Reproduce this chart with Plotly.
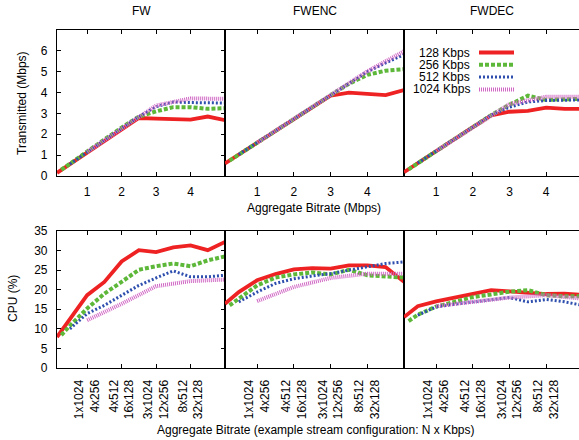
import plotly.graph_objects as go

W, H = 579, 440
OFF = 0  # body margin removed via post_script

# ---------------- data ----------------
panel_titles = ["FW", "FWENC", "FWDEC"]
series_names = ["128 Kbps", "256 Kbps", "512 Kbps", "1024 Kbps"]

# aggregate bitrate (Mbps) sample points per stream bitrate
x_128 = [0.125, 0.5, 1, 1.5, 2, 2.5, 3, 3.5, 4, 4.5, 5]
x_256 = [0.25, 0.5, 1, 1.5, 2, 2.5, 3, 3.5, 4, 4.5, 5]
x_512 = [0.5, 1, 1.5, 2, 2.5, 3, 3.5, 4, 4.5, 5]
x_1024 = [1, 2, 3, 4, 5]

# Transmitted (Mbps)
fw_tx_128 = [0.15, 0.57, 1.15, 1.70, 2.25, 2.78, 2.75, 2.72, 2.70, 2.85, 2.68]
fw_tx_256 = [0.30, 0.60, 1.17, 1.75, 2.32, 2.85, 3.10, 3.30, 3.30, 3.22, 3.25]
fw_tx_512 = [0.57, 1.15, 1.72, 2.28, 2.85, 3.32, 3.55, 3.52, 3.50, 3.50]
fw_tx_1024 = [1.15, 2.28, 3.38, 3.72, 3.70]

fwenc_tx_128 = [0.60, 1.03, 1.60, 2.17, 2.72, 3.30, 3.85, 4.00, 3.92, 3.88, 4.12]
fwenc_tx_256 = [0.74, 1.03, 1.60, 2.17, 2.72, 3.30, 3.87, 4.42, 4.85, 5.05, 5.12]
fwenc_tx_512 = [1.03, 1.60, 2.17, 2.72, 3.30, 3.87, 4.45, 5.00, 5.42, 5.82]
fwenc_tx_1024 = [1.60, 2.72, 3.88, 5.02, 5.98]

fwdec_tx_128 = [0.18, 0.62, 1.19, 1.77, 2.34, 2.90, 3.08, 3.12, 3.28, 3.22, 3.22]
fwdec_tx_256 = [0.32, 0.62, 1.19, 1.77, 2.34, 2.92, 3.42, 3.85, 3.65, 3.70, 3.70]
fwdec_tx_512 = [0.62, 1.19, 1.77, 2.34, 2.92, 3.30, 3.55, 3.62, 3.65, 3.65]
fwdec_tx_1024 = [1.19, 2.34, 3.45, 3.80, 3.80]

# CPU (%)
fw_cpu_128 = [7.9, 12.5, 18.6, 22.0, 27.2, 30.1, 29.6, 30.8, 31.3, 30.1, 32.2]
fw_cpu_256 = [8.4, 10.8, 15.2, 19.0, 22.0, 25.1, 26.0, 26.7, 26.0, 27.5, 28.5]
fw_cpu_512 = [10.0, 13.9, 16.0, 18.6, 21.1, 23.0, 24.8, 23.3, 23.3, 23.7]
fw_cpu_1024 = [12.2, 16.4, 20.9, 22.2, 22.6]

fwenc_cpu_128 = [16.4, 19.4, 22.4, 24.0, 25.2, 25.5, 25.4, 26.2, 26.2, 25.8, 22.0]
fwenc_cpu_256 = [16.0, 17.8, 21.1, 23.1, 23.9, 24.4, 23.9, 25.1, 23.7, 23.4, 23.1]
fwenc_cpu_512 = [16.9, 19.4, 21.6, 22.8, 23.5, 24.1, 25.0, 25.8, 26.7, 27.1]
fwenc_cpu_1024 = [17.1, 20.7, 23.0, 24.1, 24.1]

fwdec_cpu_128 = [13.0, 15.8, 17.0, 17.9, 18.8, 19.9, 19.6, 19.2, 18.9, 19.0, 18.7]
fwdec_cpu_256 = [12.0, 13.6, 15.7, 17.0, 18.1, 18.8, 19.5, 19.9, 18.6, 18.3, 18.3]
fwdec_cpu_512 = [13.5, 15.6, 16.3, 16.9, 17.4, 18.0, 16.9, 17.5, 16.9, 16.0]
fwdec_cpu_1024 = [15.8, 16.9, 18.0, 18.6, 17.7]

top_ticks = [1, 2, 3, 4]
top_tick_labels = ["1", "2", "3", "4"]
bottom_tick_labels = ["1x1024<br>4x256", "4x512<br>16x128", "3x1024<br>12x256", "8x512<br>32x128"]

# ---------------- styling ----------------
FONT = "Liberation Sans, Arial, Helvetica, sans-serif"
FS = 12
styles = [
    dict(color="#ee2222", width=3.8, dash="solid"),
    dict(color="#5db83a", width=4, dash="4px,2px"),
    dict(color="#2f4fae", width=3, dash="2px,2px"),
    dict(color="#d067c4", width=4, dash="1px,1px"),
]
xs = [x_128, x_256, x_512, x_1024]
tx = [
    [fw_tx_128, fw_tx_256, fw_tx_512, fw_tx_1024],
    [fwenc_tx_128, fwenc_tx_256, fwenc_tx_512, fwenc_tx_1024],
    [fwdec_tx_128, fwdec_tx_256, fwdec_tx_512, fwdec_tx_1024],
]
cpu = [
    [fw_cpu_128, fw_cpu_256, fw_cpu_512, fw_cpu_1024],
    [fwenc_cpu_128, fwenc_cpu_256, fwenc_cpu_512, fwenc_cpu_1024],
    [fwdec_cpu_128, fwdec_cpu_256, fwdec_cpu_512, fwdec_cpu_1024],
]

# pixel layout (window pixels)
col_px = [(57, 225), (225, 404), (404, 579)]
top_px = (30, 176)
bot_px = (231, 368)
xmin = 0.125
xranges = [[xmin, 5.0], [xmin, 5.0], [xmin, xmin + 175 / 36.7]]


def px_x(p):
    return (p - OFF) / W


def px_y(p):
    return 1 - (p - OFF) / H


fig = go.Figure()

for row, data in enumerate([tx, cpu]):
    for col in range(3):
        idx = row * 3 + col + 1
        xa = "x" if idx == 1 else f"x{idx}"
        ya = "y" if idx == 1 else f"y{idx}"
        for s in range(4):
            st = styles[s]
            fig.add_trace(go.Scatter(
                x=xs[s], y=data[col][s], mode="lines",
                line=dict(color=st["color"], width=st["width"], dash=st["dash"]),
                xaxis=xa, yaxis=ya, showlegend=False, hoverinfo="skip",
            ))

layout = dict(
    width=W, height=H,
    margin=dict(l=0, r=0, t=0, b=0),
    paper_bgcolor="white", plot_bgcolor="white",
    font=dict(family=FONT, size=FS, color="black"),
    showlegend=False,
)

for row in range(2):
    ypx = top_px if row == 0 else bot_px
    for col in range(3):
        idx = row * 3 + col + 1
        xkey = "xaxis" if idx == 1 else f"xaxis{idx}"
        ykey = "yaxis" if idx == 1 else f"yaxis{idx}"
        yref = "y" if idx == 1 else f"y{idx}"
        xref = "x" if idx == 1 else f"x{idx}"
        x0, x1 = col_px[col]
        xa = dict(
            domain=[px_x(x0), px_x(x1)], range=xranges[col], anchor=yref,
            showgrid=False, zeroline=False, showline=True, linecolor="black",
            linewidth=1.2, mirror="ticks",
            ticks="inside", ticklen=4, tickwidth=1, tickcolor="black",
            tickvals=top_ticks, automargin=False,
            tickfont=dict(family=FONT, size=FS, color="black"),
        )
        if row == 0:
            xa.update(ticktext=top_tick_labels, ticklabelstandoff=4)
        else:
            xa.update(ticktext=bottom_tick_labels, tickangle=-90, ticklabelstandoff=6)
        layout[xkey] = xa
        ya = dict(
            domain=[px_y(ypx[1]), px_y(ypx[0])], anchor=xref,
            showgrid=False, zeroline=False, showline=True, linecolor="black",
            linewidth=1.2, automargin=False,
            tickfont=dict(family=FONT, size=FS, color="black"),
        )
        if row == 0:
            ya.update(range=[0, 7], tickvals=[0, 1, 2, 3, 4, 5, 6])
        else:
            ya.update(range=[0, 35], tickvals=[0, 5, 10, 15, 20, 25, 30, 35])
        if col == 0:
            ya.update(ticks="inside", ticklen=4, tickwidth=1, tickcolor="black",
                      mirror="ticks", showticklabels=True, ticklabelstandoff=6)
        elif col == 1:
            ya.update(ticks="", mirror=True, showticklabels=False)
        else:
            ya.update(ticks="", mirror=False, showticklabels=False)
        layout[ykey] = ya

fig.update_layout(**layout)

# panel titles
title_cx = [141, 315, 492]
ann = []
for col, t in enumerate(panel_titles):
    ann.append(dict(text=t, x=px_x(title_cx[col]), y=px_y(11), xref="paper", yref="paper",
                    showarrow=False, xanchor="center", yanchor="middle",
                    font=dict(family=FONT, size=FS, color="black")))
# axis titles
ann.append(dict(text="Transmitted (Mbps)", x=px_x(22), y=px_y(103), xref="paper", yref="paper",
                showarrow=False, textangle=-90, xanchor="center", yanchor="middle",
                font=dict(family=FONT, size=FS, color="black")))
ann.append(dict(text="CPU (%)", x=px_x(13), y=px_y(299), xref="paper", yref="paper",
                showarrow=False, textangle=-90, xanchor="center", yanchor="middle",
                font=dict(family=FONT, size=FS, color="black")))
ann.append(dict(text="Aggregate Bitrate (Mbps)", x=px_x(314), y=px_y(208), xref="paper", yref="paper",
                showarrow=False, xanchor="center", yanchor="middle",
                font=dict(family=FONT, size=FS, color="black")))
ann.append(dict(text="Aggregate Bitrate (example stream configuration: N x Kbps)", x=px_x(315), y=px_y(430),
                xref="paper", yref="paper", showarrow=False, xanchor="center", yanchor="middle",
                font=dict(family=FONT, size=FS, color="black")))

# legend (gnuplot style: label, then sample line on the right)
legend_rows_px = [52.5, 64.8, 77.1, 89.4]
shapes = []
for i, name in enumerate(series_names):
    yy = px_y(legend_rows_px[i])
    ann.append(dict(text=name, x=px_x(471), y=yy, xref="paper", yref="paper",
                    showarrow=False, xanchor="right", yanchor="middle", borderpad=0,
                    font=dict(family=FONT, size=FS, color="black")))
    st = styles[i]
    shapes.append(dict(type="line", xref="paper", yref="paper",
                       x0=px_x(479), x1=px_x(514), y0=yy, y1=yy,
                       line=dict(color=st["color"], width=st["width"], dash=st["dash"])))

fig.update_layout(annotations=ann, shapes=shapes)

fig.write_html("out.html", config={"displayModeBar": False},
               post_script="document.body.style.margin='0px';")
